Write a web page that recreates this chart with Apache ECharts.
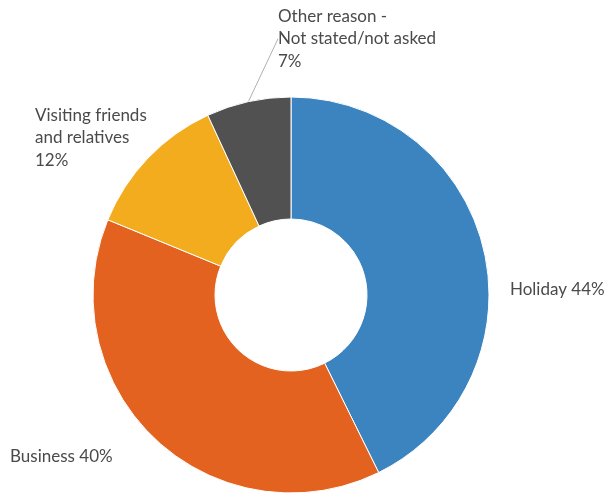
<!DOCTYPE html>
<html>
<head>
<meta charset="utf-8">
<script src="https://cdn.jsdelivr.net/npm/echarts@6/dist/echarts.min.js"></script>
<style>
    html, body { margin: 0; padding: 0; background: #fff; }
    #main { width: 611px; height: 497px; }
</style>
</head>
<body>
<div id="main"></div>
<script>
var reasons = ['Holiday', 'Business', 'Visiting friends\nand relatives', 'Other reason -\nNot stated/not asked'];
var shares = [42.7, 38.5, 11.9, 6.9];
var shareLabels = ['44%', '40%', '12%', '7%'];
var colors = ['#3b84c0', '#e4621f', '#f2ac1d', '#515151'];

// where each label sits (left/top of text block)
var labelPos = [
    {x: 510, y: 278},
    {x: 10, y: 445},
    {x: 35, y: 104},
    {x: 278, y: 5}
];

var chart = echarts.init(document.getElementById('main'));

var pieData = [];
for (var i = 0; i < reasons.length; i++) {
    var oneLine = i < 2;
    pieData.push({
        name: reasons[i],
        value: shares[i],
        itemStyle: {color: colors[i]},
        label: {
            formatter: reasons[i] + (oneLine ? ' ' : '\n') + shareLabels[i]
        },
        labelLine: {show: i === 3}
    });
}

chart.setOption({
    animation: false,
    series: [{
        type: 'pie',
        center: [291, 295],
        radius: [76, 198],
        startAngle: 90,
        clockwise: true,
        data: pieData,
        itemStyle: {borderColor: '#ffffff', borderWidth: 1},
        label: {
            show: true,
            position: 'outside',
            color: '#4a4a4a',
            fontFamily: 'Lato',
            fontSize: 17,
            lineHeight: 22.5,
            align: 'left'
        },
        labelLine: {
            show: false,
            length: 10,
            length2: 0,
            lineStyle: {color: '#b0b0b0', width: 1}
        },
        labelLayout: function (params) {
            var p = labelPos[params.dataIndex];
            return {x: p.x, y: p.y, align: 'left', verticalAlign: 'top'};
        },
        emphasis: {disabled: true}
    }]
});
</script>
</body>
</html>
